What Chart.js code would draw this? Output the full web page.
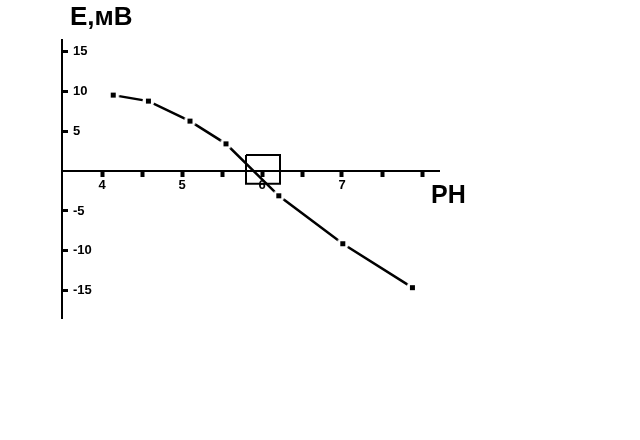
<!DOCTYPE html>
<html>
<head>
<meta charset="utf-8">
<script src="https://cdn.jsdelivr.net/npm/chart.js@4/dist/chart.umd.min.js"></script>
<style>
html,body{margin:0;padding:0;background:#fff;}
#wrap{width:640px;height:440px;}
</style>
</head>
<body>
<div id="wrap"><canvas id="c" width="640" height="440"></canvas></div>
<script>
// ---- data ----
const phValues = [4.14, 4.58, 5.1, 5.55, 6.21, 7.01, 7.88];
const eValues  = [9.5, 8.75, 6.25, 3.4, -3.1, -9.1, -14.6];
const boxX = [5.8, 6.225, 6.225, 5.8, 5.8];
const boxY = [2.0, 2.0, -1.6, -1.6, 2.0];
const xTickValues = [4, 4.5, 5, 5.5, 6, 6.5, 7, 7.5, 8];
const xTickLabels = ['4', '', '5', '', '6', '', '7', '', ''];
const yTickValues = [-15, -10, -5, 5, 10, 15];
const yTickLabels = ['-15', '-10', '-5', '5', '10', '15'];
const yTitle = 'E,мВ';
const xTitle = 'PH';

// marker: small black square with white halo (gap in line)
function makeMarker() {
  const cv = document.createElement('canvas');
  cv.width = 13; cv.height = 13;
  const g = cv.getContext('2d');
  g.fillStyle = '#fff';
  g.beginPath(); g.arc(6.5, 6.5, 6, 0, Math.PI * 2); g.fill();
  g.fillStyle = '#000';
  g.fillRect(4, 4, 5, 5);
  return cv;
}
const marker = makeMarker();

const mainData = phValues.map((x, i) => ({x: x, y: eValues[i]}));
const boxData = boxX.map((x, i) => ({x: x, y: boxY[i]}));

const titles = {
  id: 'titles',
  afterDraw(chart) {
    const ctx = chart.ctx;
    ctx.save();
    ctx.fillStyle = '#000';
    ctx.textBaseline = 'top';
    ctx.textAlign = 'left';
    ctx.font = 'bold 26px "Liberation Sans", Arial, sans-serif';
    ctx.fillText(yTitle, 70, 5);
    ctx.font = 'bold 25px "Liberation Sans", Arial, sans-serif';
    ctx.fillText(xTitle, 431, 184);
    ctx.restore();
  }
};

const tickFont = {family: '"Liberation Sans", Arial, sans-serif', size: 13, weight: 'bold'};

new Chart(document.getElementById('c'), {
  type: 'scatter',
  data: {
    datasets: [
      {
        data: mainData,
        showLine: true,
        borderColor: '#000',
        borderWidth: 2.5,
        pointStyle: marker,
        pointRadius: 6,
        pointHoverRadius: 6,
        tension: 0,
        order: 1
      },
      {
        data: boxData,
        showLine: true,
        borderColor: '#000',
        borderWidth: 2,
        pointRadius: 0,
        pointHoverRadius: 0,
        tension: 0,
        order: 2
      }
    ]
  },
  options: {
    responsive: false,
    animation: false,
    devicePixelRatio: 1,
    events: [],
    layout: {padding: {left: 62, top: 40, right: 201, bottom: 122}},
    plugins: {legend: {display: false}, tooltip: {enabled: false}},
    scales: {
      x: {
        type: 'linear',
        position: {y: 0},
        min: 3.5,
        max: 8.2125,
        afterFit(s) { s.height = 0; },
        afterBuildTicks(s) { s.ticks = xTickValues.map(v => ({value: v})); },
        grid: {drawOnChartArea: false, drawTicks: true, tickLength: 5, tickWidth: 4, tickColor: '#000'},
        border: {display: true, color: '#000', width: 2},
        ticks: {
          autoSkip: false,
          maxRotation: 0,
          padding: 2,
          color: '#000',
          font: tickFont,
          callback: (v) => { const i = xTickValues.indexOf(v); return i >= 0 ? xTickLabels[i] : ''; }
        }
      },
      y: {
        type: 'linear',
        position: 'left',
        min: -18.4,
        max: 16.4,
        afterFit(s) { s.width = 0; },
        afterBuildTicks(s) { s.ticks = yTickValues.map(v => ({value: v})); },
        grid: {drawOnChartArea: false, drawTicks: true, tickLength: -6, tickWidth: 3, tickColor: '#000'},
        border: {display: true, color: '#000', width: 2},
        ticks: {
          mirror: true,
          padding: 11,
          autoSkip: false,
          color: '#000',
          font: tickFont,
          callback: (v) => { const i = yTickValues.indexOf(v); return i >= 0 ? yTickLabels[i] : ''; }
        }
      }
    }
  },
  plugins: [titles]
});
</script>
</body>
</html>
